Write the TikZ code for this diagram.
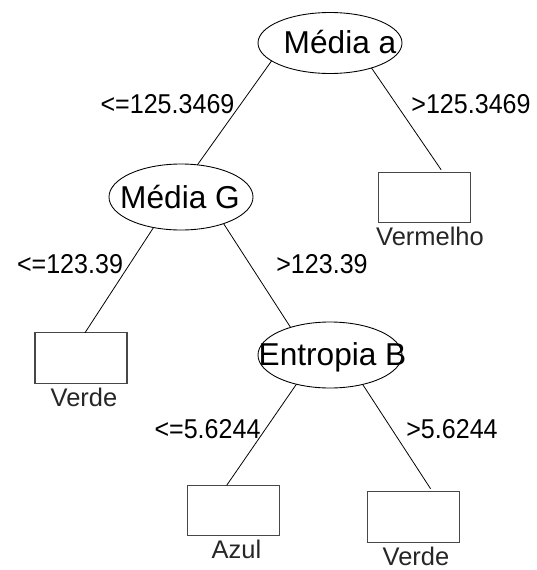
\documentclass[tikz,border=0pt]{standalone}
\usepackage{fontspec}
\setmainfont{Liberation Sans}
\newfontfamily\condfont{Liberation Sans}[FakeStretch=0.92]
\usepackage{tikz}
\usetikzlibrary{shapes.geometric}

\begin{document}
\begin{tikzpicture}[
  split/.style={draw=black,line width=0.5pt,ellipse,inner sep=0pt,outer sep=0pt,minimum width=2.88cm,minimum height=1.32cm},
  leaf/.style={draw=black!72,line width=0.6pt,rectangle,inner sep=0pt,outer sep=0pt,minimum width=1.84cm,minimum height=1.01cm},
  lnk/.style={draw=black,line width=0.45pt},
  splittxt/.style={font=\fontsize{18}{20}\selectfont,inner sep=0pt,anchor=base},
  cond/.style={font=\condfont\fontsize{15.5}{18}\selectfont,inner sep=0pt,anchor=base},
  leaftxt/.style={font=\fontsize{14.5}{17}\selectfont,inner sep=0pt,anchor=base,text=black!85},
]
\useasboundingbox (0,0) rectangle (10.74,-11.40);

% split nodes
\node[split,minimum height=1.22cm] (mediaa) at (6.60,-0.86) {};
\node[splittxt] (mediaatxt) at (6.80,-1.06) {Média a};
\node[split] (mediag) at (3.62,-3.94) {};
\node[splittxt] (mediagtxt) at (3.60,-4.16) {Média G};
\node[split] (entropia) at (6.60,-7.10) {};
\node[splittxt] (entropiatxt) at (6.65,-7.30) {Entropia B};

% leaves
\node[leaf] (verm) at (8.49,-3.95) {};
\node[leaftxt] (vermtxt) at (8.60,-4.90) {Vermelho};
\node[leaf] (verde) at (1.62,-7.16) {};
\node[leaftxt] (verdetxt) at (1.68,-8.12) {Verde};
\node[leaf] (azul) at (4.67,-10.21) {};
\node[leaftxt] (azultxt) at (4.73,-11.16) {Azul};
\node[leaf] (verdeb) at (8.27,-10.34) {};
\node[leaftxt] (verdebtxt) at (8.32,-11.30) {Verde};

% edges
\draw[lnk] (mediaa.197) -- (mediag.63);
\draw[lnk,shorten >=0.06cm] (mediaa.329) -- (verm.54);
\draw[lnk] (mediag.228) -- (verde.81);
\draw[lnk] (mediag.328) -- (entropia.145);
\draw[lnk] (entropia.221) -- (azul.105);
\draw[lnk,shorten >=0.07cm] (entropia.318) -- (verdeb.53);

% conditions
\node[cond] (c1) at (3.35,-2.26) {<=125.3469};
\node[cond] (c2) at (9.42,-2.26) {>125.3469};
\node[cond] (c3) at (1.40,-5.46) {<=123.39};
\node[cond] (c4) at (6.44,-5.46) {>123.39};
\node[cond] (c5) at (4.15,-8.76) {<=5.6244};
\node[cond] (c6) at (9.04,-8.76) {>5.6244};
\end{tikzpicture}
\end{document}
